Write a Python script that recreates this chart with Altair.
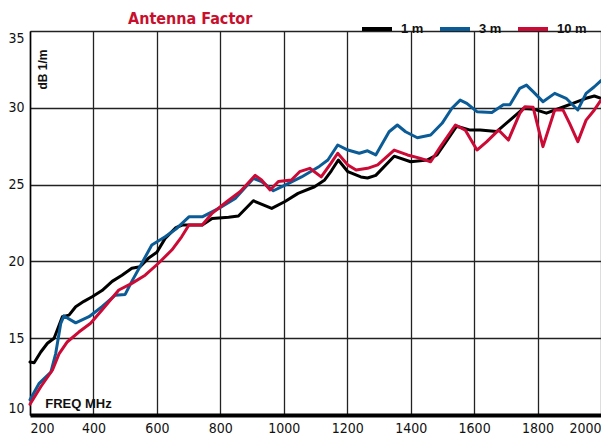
import altair as alt
import pandas as pd

# 1 m series
freq_1m = [200, 213, 234, 255, 276, 292, 302, 323, 344, 370, 396, 427, 459, 490, 521, 547, 573, 600,
           626, 660, 680, 743, 774, 826, 857, 904, 962, 1004, 1045, 1097, 1129, 1150, 1172, 1202, 1243,
           1264, 1290, 1348, 1400, 1452, 1483, 1515, 1545, 1588, 1619, 1671, 1713, 1755, 1790, 1828,
           1870, 1911, 1953, 1979, 2000]
af_1m = [13.45, 13.4, 14.1, 14.67, 15.0, 15.86, 16.4, 16.5, 17.05, 17.4, 17.7, 18.1, 18.7, 19.1, 19.55,
         19.65, 20.2, 20.6, 21.5, 22.2, 22.37, 22.37, 22.8, 22.87, 22.96, 23.95, 23.45, 23.9, 24.43,
         24.86, 25.3, 25.9, 26.6, 25.84, 25.5, 25.43, 25.6, 26.85, 26.49, 26.6, 26.93, 27.9, 28.8,
         28.55, 28.55, 28.45, 29.2, 29.95, 29.9, 29.65, 29.97, 30.29, 30.62, 30.77, 30.62]

# 3 m series
freq_3m = [200, 229, 266, 281, 297, 307, 344, 386, 427, 469, 500, 521, 553, 584, 626, 660, 701, 743,
           795, 847, 904, 930, 967, 1004, 1056, 1113, 1139, 1170, 1202, 1238, 1264, 1290, 1332, 1358,
           1384, 1421, 1463, 1499, 1530, 1556, 1577, 1609, 1656, 1692, 1713, 1744, 1765, 1786, 1817,
           1854, 1890, 1927, 1953, 1979, 2000]
af_3m = [11.0, 12.06, 12.8, 14.0, 15.97, 16.45, 16.0, 16.4, 17.05, 17.8, 17.85, 18.7, 19.9, 21.07,
         21.6, 22.1, 22.9, 22.9, 23.45, 24.1, 25.4, 25.2, 24.6, 24.97, 25.5, 26.2, 26.6, 27.58, 27.25,
         27.04, 27.2, 26.93, 28.44, 28.88, 28.44, 28.05, 28.23, 28.99, 29.97, 30.5, 30.29, 29.75,
         29.7, 30.2, 30.2, 31.27, 31.48, 31.05, 30.4, 30.94, 30.62, 29.86, 30.94, 31.37, 31.77]

# 10 m series
freq_10m = [200, 234, 271, 292, 318, 354, 391, 427, 480, 521, 563, 605, 647, 678, 701, 743, 774, 821,
            863, 910, 930, 957, 983, 1024, 1050, 1082, 1118, 1149, 1170, 1202, 1228, 1264, 1296, 1348,
            1390, 1431, 1463, 1494, 1541, 1572, 1609, 1640, 1677, 1708, 1744, 1760, 1786, 1817, 1854,
            1880, 1901, 1927, 1953, 1979, 2000]
af_10m = [10.7, 11.84, 12.93, 14.0, 14.77, 15.4, 15.97, 16.84, 18.14, 18.57, 19.1, 19.88, 20.74, 21.6,
          22.37, 22.37, 23.13, 23.9, 24.55, 25.6, 25.3, 24.65, 25.2, 25.3, 25.84, 26.06, 25.5, 26.4,
          27.04, 26.28, 25.95, 26.06, 26.28, 27.25, 26.93, 26.71, 26.49, 27.47, 28.88, 28.55, 27.25,
          27.8, 28.55, 27.9, 29.64, 30.07, 30.03, 27.47, 29.86, 29.86, 28.99, 27.8, 29.2, 29.86, 30.5]

series_names = ["1 m", "3 m", "10 m"]
series_colors = ["#000000", "#0b5c96", "#cc0a36"]
x_ticks = [200, 400, 600, 800, 1000, 1200, 1400, 1600, 1800, 2000]
y_ticks = [10, 15, 20, 25, 30, 35]
chart_title = ["Antenna Factor"]

rows = []
for name, fs, vs in zip(series_names, [freq_1m, freq_3m, freq_10m], [af_1m, af_3m, af_10m]):
    for i, (f, v) in enumerate(zip(fs, vs)):
        rows.append({"series": name, "freq": f, "af": v, "idx": i})
df = pd.DataFrame(rows)

NARROW = "Liberation Sans Narrow, DejaVu Sans Condensed, Arial Narrow, sans-serif"
SANS = "Liberation Sans, Arial, sans-serif"

lines = alt.Chart(df).mark_line(strokeWidth=3, strokeJoin="round", strokeCap="round").encode(
    x=alt.X("freq:Q",
            scale=alt.Scale(domain=[200, 2000], nice=False, zero=False),
            axis=alt.Axis(values=x_ticks, format="d", title="FREQ MHz", titleX=48, titleY=-12,
                          titleAnchor="start", titleAlign="center", titleBaseline="middle",
                          titleFontSize=13, titleFontWeight="bold", titleColor="#111",
                          titleFont=SANS,
                          labelFontSize=14, labelFont=NARROW, labelColor="#111",
                          labelFlush=True, labelPadding=6, ticks=False,
                          domainColor="#000", domainWidth=4,
                          grid=True, gridColor="#222", gridWidth=1.3)),
    y=alt.Y("af:Q",
            scale=alt.Scale(domain=[10, 35], nice=False, zero=False),
            axis=alt.Axis(values=y_ticks, title="dB 1/m", titleAngle=270, titleX=12, titleY=38,
                          titleAlign="center", titleBaseline="middle",
                          titleFontSize=12, titleFontWeight="bold", titleColor="#111",
                          titleFont=SANS,
                          labelFontSize=14, labelFont=NARROW, labelColor="#111",
                          labelFlush=True, labelPadding=6, ticks=False,
                          domainColor="#000", domainWidth=1.5,
                          grid=True, gridColor="#222", gridWidth=1.3)),
    color=alt.Color("series:N",
                    scale=alt.Scale(domain=series_names, range=series_colors),
                    legend=alt.Legend(title=None, orient="none", legendX=330, legendY=-19,
                                      direction="horizontal", symbolType="stroke",
                                      symbolStrokeWidth=4, symbolSize=900,
                                      labelFontSize=13, labelFontWeight="bold",
                                      labelFont=SANS,
                                      labelColor="#111", labelOffset=7, columnPadding=8)),
    order=alt.Order("idx:Q"),
)

title = alt.Chart(pd.DataFrame({"t": chart_title})).mark_text(
    align="left", baseline="alphabetic", fontSize=16, font=NARROW, fontWeight="bold",
    color="#c8102e"
).encode(x=alt.value(98), y=alt.value(-7), text="t:N")

chart = alt.layer(lines, title).properties(
    width=571,
    height=384,
    padding={"left": 22, "top": 23, "right": 0, "bottom": 20},
    autosize=alt.AutoSizeParams(type="none"),
).configure_view(
    stroke="#000", strokeWidth=1.5
).configure(background="white")

chart.save("out.html", embed_options={"renderer": "svg", "actions": False})
